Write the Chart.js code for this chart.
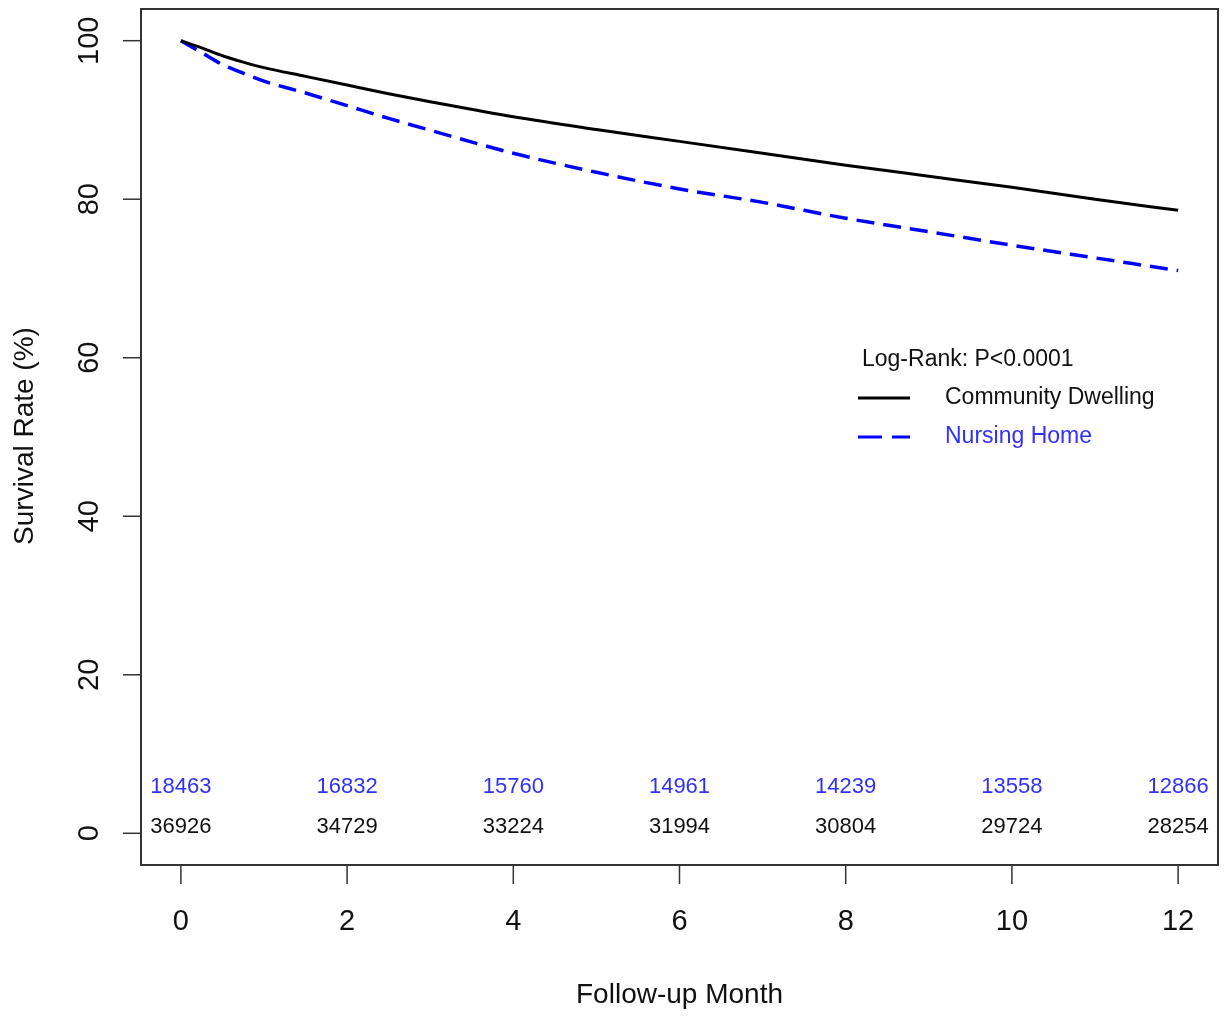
<!DOCTYPE html>
<html>
<head>
<meta charset="utf-8">
<script src="https://cdn.jsdelivr.net/npm/chart.js@4/dist/chart.umd.min.js"></script>
<style>
  html, body { margin:0; padding:0; background:#fff; }
  #box { width:1230px; height:1017px; }
</style>
</head>
<body>
<div id="box"><canvas id="graphicFirst"></canvas></div>
<script>
//-----Variables
const months      = [0, 0.25, 0.5, 0.75, 1, 1.5, 2, 2.5, 3, 4, 5, 6, 7, 8, 9, 10, 11, 12];
const community   = [100, 99.1, 98.1, 97.3, 96.6, 95.5, 94.4, 93.3, 92.3, 90.4, 88.8, 87.3, 85.8, 84.3, 82.9, 81.5, 80.0, 78.6];
const nursing     = [100, 98.5, 97.0, 95.9, 94.9, 93.4, 91.8, 90.2, 88.7, 85.8, 83.4, 81.3, 79.6, 77.6, 75.9, 74.2, 72.6, 71.0];

const xTicks      = [0, 2, 4, 6, 8, 10, 12];
const yTicks      = [0, 20, 40, 60, 80, 100];
const riskNursing   = ['18463', '16832', '15760', '14961', '14239', '13558', '12866'];
const riskCommunity = ['36926', '34729', '33224', '31994', '30804', '29724', '28254'];

const labelCommunity = 'Community Dwelling';
const labelNursing   = 'Nursing Home';
const logRankText    = 'Log-Rank: P<0.0001';

const FONT = '"Liberation Sans", Arial, sans-serif';
const BLUE_TEXT = '#3030ff';

function toPoints(xs, ys){
  return xs.map((x, i) => ({ x: x, y: ys[i] }));
}

var data1 = {
  datasets: [
    {
      label: labelCommunity,
      data: toPoints(months, community),
      borderColor: '#000000',
      borderWidth: 3,
      pointRadius: 0,
      cubicInterpolationMode: 'monotone',
      fill: false,
    },
    {
      label: labelNursing,
      data: toPoints(months, nursing),
      borderColor: '#0000ff',
      borderWidth: 3.5,
      borderDash: [18, 9],
      pointRadius: 0,
      cubicInterpolationMode: 'monotone',
      fill: false,
    },
  ]
};

//----R style frame, axes, risk table and legend
const rFrame = {
  id: 'rFrame',
  afterDraw(chart){
    const ctx = chart.ctx;
    const a = chart.chartArea;
    const sx = chart.scales.x;
    const sy = chart.scales.y;
    ctx.save();

    //---box
    ctx.strokeStyle = '#333';
    ctx.lineWidth = 2;
    ctx.strokeRect(a.left, a.top, a.right - a.left, a.bottom - a.top);

    //---x ticks
    ctx.lineWidth = 1.5;
    ctx.fillStyle = '#111';
    ctx.font = '29px ' + FONT;
    ctx.textAlign = 'center';
    ctx.textBaseline = 'middle';
    xTicks.forEach(t => {
      let px = sx.getPixelForValue(t);
      ctx.beginPath();
      ctx.moveTo(px, a.bottom);
      ctx.lineTo(px, a.bottom + 19);
      ctx.stroke();
      ctx.fillText(String(t), px, 922);
    });

    //---y ticks (rotated labels)
    yTicks.forEach(t => {
      let py = sy.getPixelForValue(t);
      ctx.beginPath();
      ctx.moveTo(a.left, py);
      ctx.lineTo(a.left - 18, py);
      ctx.stroke();
      ctx.save();
      ctx.translate(90, py);
      ctx.rotate(-Math.PI / 2);
      ctx.fillText(String(t), 0, 0);
      ctx.restore();
    });

    //---axis titles
    ctx.font = '28px ' + FONT;
    ctx.fillText('Follow-up Month', sx.getPixelForValue(6), 995);
    ctx.save();
    ctx.translate(25, 436);
    ctx.rotate(-Math.PI / 2);
    ctx.fillText('Survival Rate (%)', 0, 0);
    ctx.restore();

    //---numbers at risk
    ctx.font = '22px ' + FONT;
    xTicks.forEach((t, i) => {
      let px = sx.getPixelForValue(t);
      ctx.fillStyle = BLUE_TEXT;
      ctx.fillText(riskNursing[i], px, 787);
      ctx.fillStyle = '#111';
      ctx.fillText(riskCommunity[i], px, 827);
    });

    //---legend
    ctx.font = '23px ' + FONT;
    ctx.textAlign = 'left';
    ctx.fillStyle = '#111';
    ctx.fillText(logRankText, 862, 360);
    ctx.fillText(labelCommunity, 945, 398);
    ctx.fillStyle = BLUE_TEXT;
    ctx.fillText(labelNursing, 945, 437);

    ctx.lineWidth = 3;
    ctx.strokeStyle = '#000';
    ctx.beginPath();
    ctx.moveTo(858, 398);
    ctx.lineTo(910, 398);
    ctx.stroke();
    ctx.strokeStyle = '#0000ff';
    ctx.setLineDash([24, 10]);
    ctx.beginPath();
    ctx.moveTo(858, 437);
    ctx.lineTo(910, 437);
    ctx.stroke();
    ctx.setLineDash([]);

    ctx.restore();
  }
};

var setOptions1 = {
  responsive: true,
  maintainAspectRatio: false,
  animation: false,
  layout: {
    padding: { left: 141, right: 12, top: 9, bottom: 152 }
  },
  plugins: {
    legend: { display: false },
    tooltip: { enabled: false },
  },
  scales: {
    x: { type: 'linear', min: -0.48, max: 12.48, display: false },
    y: { type: 'linear', min: -4, max: 104, display: false },
  }
};

let chart1;
function drawGraphicFirst(data, setOptions){
  var ctx = document.getElementById('graphicFirst').getContext('2d');
  if (chart1) {
    chart1.destroy();
  }
  chart1 = new Chart(ctx, {
    type: 'line',
    data: data,
    options: setOptions,
    plugins: [rFrame],
  });
}

window.onload = function(){
  drawGraphicFirst(data1, setOptions1);
}
</script>
</body>
</html>
